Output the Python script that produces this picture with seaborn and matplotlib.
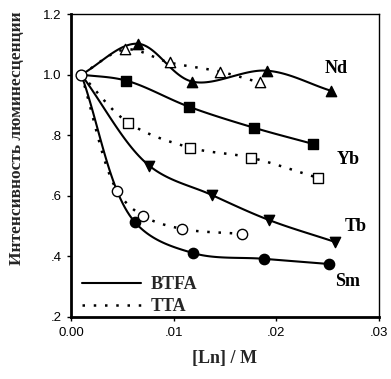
import numpy as np
import pandas as pd
import matplotlib
matplotlib.use("Agg")
import matplotlib.pyplot as plt
from matplotlib.lines import Line2D
import seaborn as sns

# ---- data ----
x0, y0 = 0.001, 1.0  # common starting point

nd_btfa_x = [0.0065, 0.0118, 0.0191, 0.0253]
nd_btfa_y = [1.102, 0.977, 1.013, 0.947]
nd_tta_x = [0.0053, 0.0096, 0.0145, 0.0184]
nd_tta_y = [1.083, 1.040, 1.010, 0.974]

yb_btfa_x = [0.0054, 0.0115, 0.0178, 0.0236]
yb_btfa_y = [0.980, 0.894, 0.825, 0.771]
yb_tta_x = [0.0056, 0.0116, 0.0175, 0.0241]
yb_tta_y = [0.841, 0.759, 0.726, 0.659]

tb_btfa_x = [0.0076, 0.0137, 0.0193, 0.0257]
tb_btfa_y = [0.700, 0.603, 0.520, 0.448]

sm_btfa_x = [0.0062, 0.0119, 0.0188, 0.0251]
sm_btfa_y = [0.514, 0.411, 0.392, 0.375]
sm_tta_x = [0.0045, 0.0070, 0.0108, 0.0167]
sm_tta_y = [0.617, 0.534, 0.491, 0.474]

labels = ["Nd", "Yb", "Tb", "Sm"]
label_x = [0.0247, 0.0259, 0.0267, 0.0257]
label_y = [1.020, 0.720, 0.500, 0.316]

xticks = [0.0, 0.01, 0.02, 0.03]
xticklabels = ["0.00", ".01", ".02", ".03"]
yticks = [0.2, 0.4, 0.6, 0.8, 1.0, 1.2]
yticklabels = [".2", ".4", ".6", ".8", "1.0", "1.2"]


def smooth(xs, ys, n=30):
    """Centripetal Catmull-Rom curve through the points (for drawing the line only)."""
    P = np.column_stack([np.asarray(xs) / 0.03, np.asarray(ys) / 1.0])
    P = np.vstack([2 * P[0] - P[1], P, 2 * P[-1] - P[-2]])
    out = []
    for i in range(1, len(P) - 2):
        p0, p1, p2, p3 = P[i - 1], P[i], P[i + 1], P[i + 2]
        a = 0.5
        t0 = 0
        t1 = t0 + np.linalg.norm(p1 - p0) ** a
        t2 = t1 + np.linalg.norm(p2 - p1) ** a
        t3 = t2 + np.linalg.norm(p3 - p2) ** a
        t = np.linspace(t1, t2, n)[:, None]
        A1 = (t1 - t) / (t1 - t0) * p0 + (t - t0) / (t1 - t0) * p1
        A2 = (t2 - t) / (t2 - t1) * p1 + (t - t1) / (t2 - t1) * p2
        A3 = (t3 - t) / (t3 - t2) * p2 + (t - t2) / (t3 - t2) * p3
        B1 = (t2 - t) / (t2 - t0) * A1 + (t - t0) / (t2 - t0) * A2
        B2 = (t3 - t) / (t3 - t1) * A2 + (t - t1) / (t3 - t1) * A3
        C = (t2 - t) / (t2 - t1) * B1 + (t - t1) / (t2 - t1) * B2
        out.append(C if i == len(P) - 3 else C[:-1])
    C = np.vstack(out)
    return C[:, 0] * 0.03, C[:, 1]


sns.set_theme(style="white")
plt.rcParams["font.family"] = ["Liberation Sans", "DejaVu Sans"]
serif = ["Liberation Serif", "DejaVu Serif"]

fig = plt.figure(figsize=(3.91, 3.79), dpi=100)
ax = fig.add_axes([0.1816, 0.1636, 0.7874, 0.7994])

series = [
    (nd_btfa_x, nd_btfa_y, "^", True),
    (nd_tta_x, nd_tta_y, "^", False),
    (yb_btfa_x, yb_btfa_y, "s", True),
    (yb_tta_x, yb_tta_y, "s", False),
    (tb_btfa_x, tb_btfa_y, "v", True),
    (sm_btfa_x, sm_btfa_y, "o", True),
    (sm_tta_x, sm_tta_y, "o", False),
]

for xs, ys, mk, solid in series:
    fx = [x0] + list(xs)
    fy = [y0] + list(ys)
    cx, cy = smooth(fx, fy)
    df = pd.DataFrame({"x": cx, "y": cy})
    sns.lineplot(data=df, x="x", y="y", ax=ax, sort=False, estimator=None,
                 color="black", lw=1.5 if solid else 1.8,
                 linestyle="-" if solid else (0, (1, 3.5)))
    pdf = pd.DataFrame({"x": xs, "y": ys})
    ms = 55 if mk != "s" else 45
    sns.scatterplot(data=pdf, x="x", y="y", ax=ax, marker=mk, s=ms,
                    facecolor="black" if solid else "white",
                    edgecolor="black", linewidth=1.0, zorder=5)

sns.scatterplot(x=[x0], y=[y0], ax=ax, marker="o", s=60, facecolor="white",
                edgecolor="black", linewidth=1.0, zorder=6)

for lab, lx, ly in zip(labels, label_x, label_y):
    ax.text(lx, ly, lab, family=serif, fontweight="bold", fontsize=13,
            ha="left", va="center", color="black")

ax.set_xlim(0, 0.03)
ax.set_ylim(0.2, 1.2)
ax.set_xticks(xticks)
ax.set_xticklabels(xticklabels, fontsize=9.5)
ax.set_yticks(yticks)
ax.set_yticklabels(yticklabels, fontsize=9.5)
ax.tick_params(axis="both", direction="out", length=3, width=1, color="black",
               bottom=True, left=True, pad=4, labelcolor="black")

ax.set_xlabel("[Ln] / M", family=serif, fontweight="bold", fontsize=13, labelpad=8)
ax.set_ylabel("Интенсивность люминесценции", family=serif, fontweight="bold",
              fontsize=12.5, labelpad=14)
ax.yaxis.set_label_coords(-0.15, 0.59)

for side in ["left", "bottom"]:
    ax.spines[side].set_linewidth(2.0)
for side in ["top", "right"]:
    ax.spines[side].set_linewidth(1.0)
for s in ax.spines.values():
    s.set_color("black")

handles = [Line2D([], [], color="black", lw=1.5, linestyle="-"),
           Line2D([], [], color="black", lw=1.8, linestyle=(0, (1, 3.5)))]
ax.legend(handles, ["BTFA", "TTA"], loc="lower left", frameon=False,
          prop={"family": serif, "weight": "bold", "size": 13},
          handlelength=3.3, handletextpad=0.5, labelspacing=0.3,
          borderaxespad=0.2, bbox_to_anchor=(0.0, -0.03))

ax.set_facecolor("white")
fig.patch.set_facecolor("white")
fig.savefig("out.png", dpi=100, facecolor="white")
